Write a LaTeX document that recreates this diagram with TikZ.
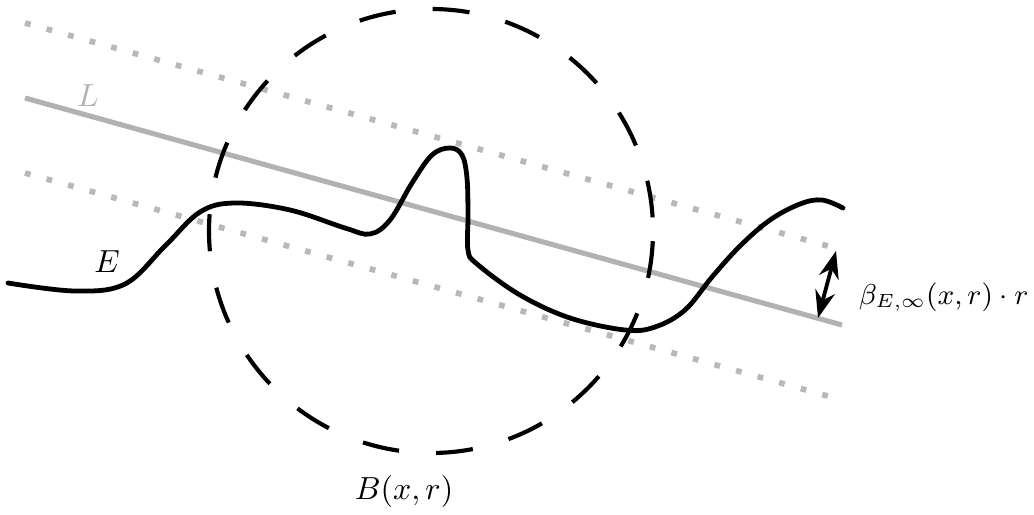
\documentclass[tikz,border=0pt]{standalone}
\usepackage{amsmath,amssymb}
\usepackage{xcolor}
\usepackage{tikz}
\usetikzlibrary{arrows.meta,positioning}
\tikzset{
  surface/.style={
    line width=1.5pt,
    line cap=round,
    black
  },
  ball/.style={
    line width=1.3pt,
    dash pattern=on 11.6pt off 11.6pt,
    dash phase=20pt
  },
  bestline/.style={
    line width=1.6pt,
    black!30
  },
  band/.style={
    line width=1.8pt,
    black!28,
    dash pattern=on 1.8pt off 5.2pt
  },
  flow/.style={{Stealth[length=3mm,width=2.2mm]}-{Stealth[length=3mm,width=2.2mm]}, line width=1.2pt}
}

\begin{document}
\begin{tikzpicture}[x=0.011cm, y=-0.011cm]
  \useasboundingbox (0,0) rectangle (1034,514);

  % strip around the line
  \coordinate (bandtopL) at (25,23);
  \coordinate (bandtopR) at (837,248.6);
  \coordinate (bandbotL) at (25,173);
  \coordinate (bandbotR) at (837,398.6);
  \draw[band] (bandtopL) -- (bandtopR);
  \draw[band] (bandbotL) -- (bandbotR);

  % approximating line
  \coordinate (lineL) at (25,98);
  \coordinate (lineR) at (842,325);
  \draw[bestline] (lineL) -- (lineR);
  \node[black!30] (labelL) at (88,96) {$L$};

  % the ball
  \coordinate (center) at (431,231);
  \draw[ball] (center) circle[radius=222];
  \node (labelB) at (404,492) {$B(x,r)$};

  % the set E
  \draw[surface] plot[smooth, tension=0.6] coordinates {
    (8,283) (75,291) (125,284) (165,246) (200,212) (235,203)
    (290,210) (345,228) (370,234) (390,220) (412,183)
    (432,155) (450,148) (462,155) (467,178) (468,215) (468,250)
    (477,264) (520,295) (570,318) (625,330) (655,327) (685,310)
    (712,277) (740,246) (770,220) (800,204) (822,200) (843,208)};
  \node (labelE) at (107,262) {$E$};

  % width of the strip
  \coordinate (gapTop) at (836,251);
  \coordinate (gapBot) at (818,318);
  \draw[flow] (gapTop) -- (gapBot);
  \node[anchor=west, inner sep=1pt, font=\fontsize{9}{11}\selectfont] (beta)
    at (855,297) {$\beta_{E,\infty}(x,r)\cdot r$};
\end{tikzpicture}
\end{document}
